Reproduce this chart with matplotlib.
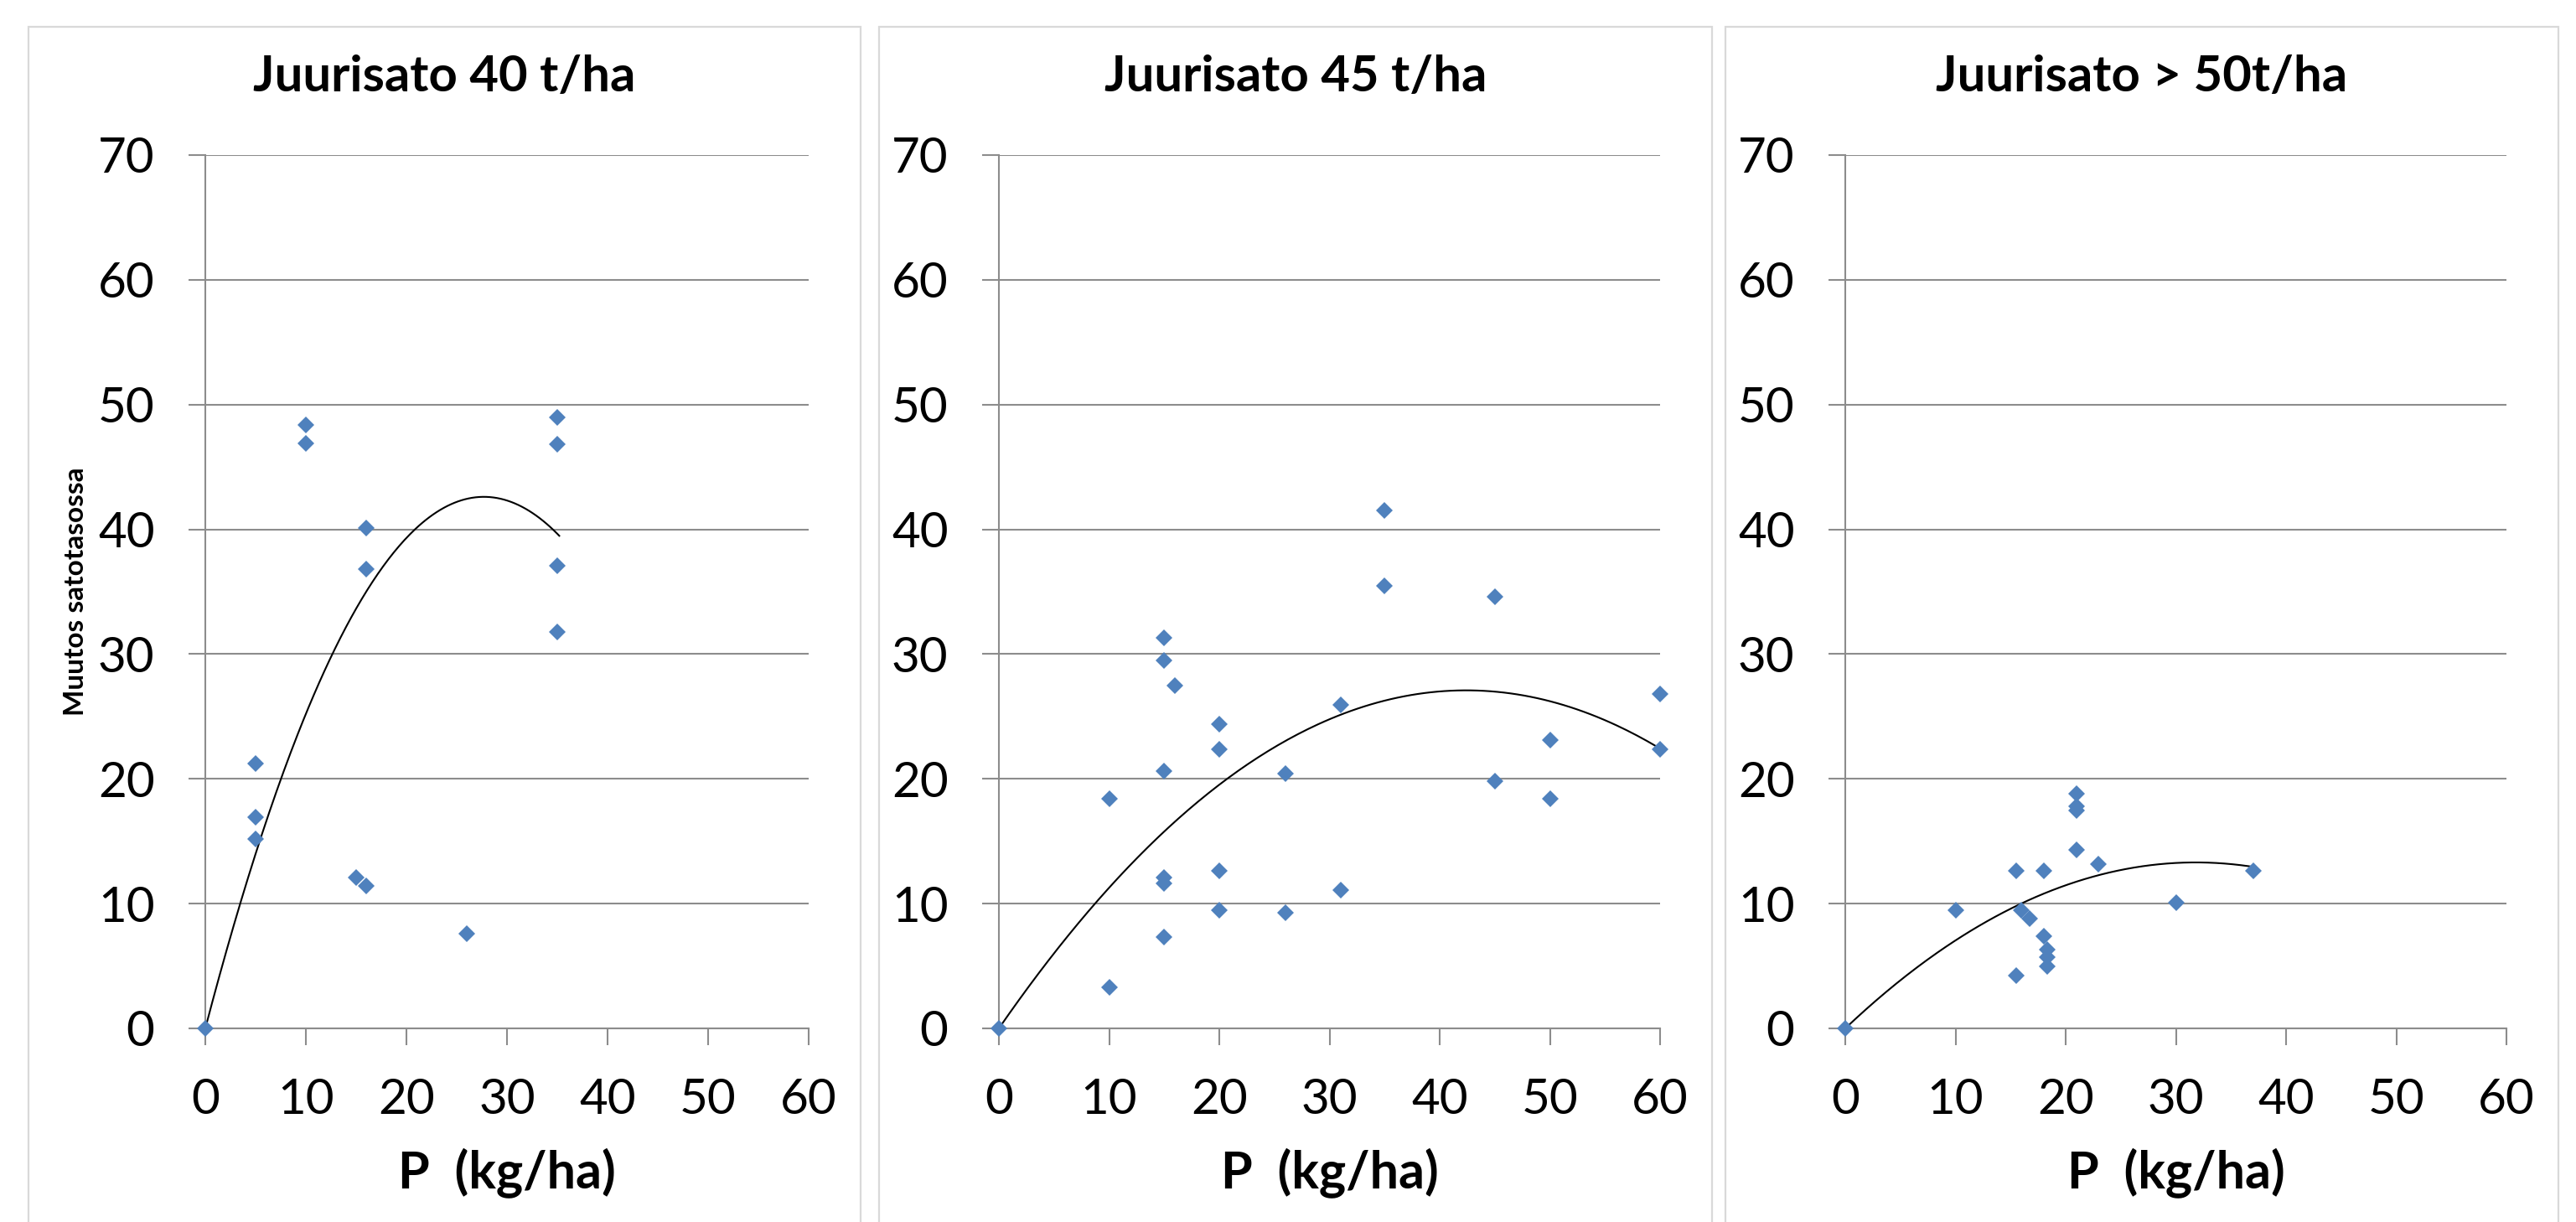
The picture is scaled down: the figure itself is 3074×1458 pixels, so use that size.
import matplotlib
matplotlib.use("Agg")
import matplotlib.pyplot as plt
import numpy as np
from matplotlib.patches import Rectangle

plt.rcParams['font.family'] = ['Lato', 'DejaVu Sans']

# ---- data ----
titles = ["Juurisato 40 t/ha", "Juurisato 45 t/ha", "Juurisato > 50t/ha"]
xlabel = "P  (kg/ha)"
ylabel = "Muutos satotasossa"

p1_x = [0, 5, 5, 5, 10, 10, 15, 16, 16, 16, 26, 35, 35, 35, 35]
p1_y = [0, 21.2, 16.9, 15.2, 48.4, 46.9, 12.1, 40.1, 36.8, 11.4, 7.6, 49.0, 46.8, 37.1, 31.8]

p2_x = [0, 10, 10, 15, 15, 15, 15, 15, 15, 16, 20, 20, 20, 20, 26, 26, 31, 31,
        35, 35, 45, 45, 50, 50, 60, 60]
p2_y = [0, 18.4, 3.3, 31.3, 29.5, 20.6, 12.1, 11.6, 7.3, 27.5, 24.4, 22.4, 12.6, 9.5,
        20.4, 9.3, 25.9, 11.1, 41.5, 35.5, 34.6, 19.8, 23.1, 18.4, 26.8, 22.4]

p3_x = [0, 10, 15.5, 15.5, 16, 16.7, 18, 18, 18.3, 18.3, 18.3, 21, 21, 21, 21, 23, 30, 37]
p3_y = [0, 9.5, 12.6, 4.2, 9.5, 8.8, 12.6, 7.4, 6.3, 5.7, 5.0, 18.8, 17.8, 17.5, 14.3,
        13.2, 10.1, 12.6]

# quadratic trendlines through origin: y = a*x + b*x^2, over [0, xmax]
trend_a = [3.076, 1.278, 0.8365]
trend_b = [-0.05552, -0.01507, -0.01315]
trend_xmax = [35.2, 60, 37]

xticks = [0, 10, 20, 30, 40, 50, 60]
yticks = [0, 10, 20, 30, 40, 50, 60, 70]

series_x = [p1_x, p2_x, p3_x]
series_y = [p1_y, p2_y, p3_y]

# ---- layout (pixels) ----
W, H = 3074, 1458
fig = plt.figure(figsize=(W / 100, H / 100), dpi=100)
fig.patch.set_facecolor('white')

axes_left = [245, 1192, 2202]
axes_right = [965, 1981, 2991]
axes_top, axes_bottom = 185, 1227
panel_lr = [(34, 1027), (1049, 2043), (2059, 3053)]
panel_top = 32

grid_col = '#8c8c8c'
marker_col = '#4F81BD'

for i in range(3):
    pl, pr = panel_lr[i]
    fig.patches.append(Rectangle((pl / W, -0.1), (pr - pl) / W, 1.1 - panel_top / H,
                                 transform=fig.transFigure, fill=False,
                                 edgecolor='#d9d9d9', linewidth=1.6))
    l = axes_left[i]
    r = axes_right[i]
    ax = fig.add_axes([l / W, (H - axes_bottom) / H, (r - l) / W, (axes_bottom - axes_top) / H])
    ax.set_xlim(0, 60)
    ax.set_ylim(0, 70)
    ax.set_xticks(xticks)
    ax.set_yticks(yticks)
    ax.yaxis.grid(True, color=grid_col, linewidth=1.5)
    ax.set_axisbelow(True)
    for s in ['top', 'right']:
        ax.spines[s].set_visible(False)
    for s in ['left', 'bottom']:
        ax.spines[s].set_color(grid_col)
        ax.spines[s].set_linewidth(1.5)
    ax.tick_params(axis='both', direction='out', length=14.5, width=1.5, color=grid_col,
                   labelsize=42, labelcolor='black')
    ax.tick_params(axis='y', pad=29)
    ax.tick_params(axis='x', pad=28)

    xs = np.linspace(0, trend_xmax[i], 200)
    ax.plot(xs, trend_a[i] * xs + trend_b[i] * xs ** 2, color='black', linewidth=1.5,
            zorder=3, clip_on=False)
    ax.plot(series_x[i], series_y[i], linestyle='none', marker='D', markersize=10,
            color=marker_col, markeredgewidth=0, zorder=4, clip_on=False)

    ax.set_xlabel(xlabel, fontsize=44, fontweight='bold', labelpad=22)
    fig.text(((pl + pr) / 2) / W, 1 - 92 / H, titles[i], fontsize=43, fontweight='bold',
             ha='center', va='center')

fig.text(91 / W, 1 - 706 / H, ylabel, fontsize=24, fontweight='bold', rotation=90,
         ha='center', va='center')

fig.savefig('out.png', dpi=100, facecolor='white')
